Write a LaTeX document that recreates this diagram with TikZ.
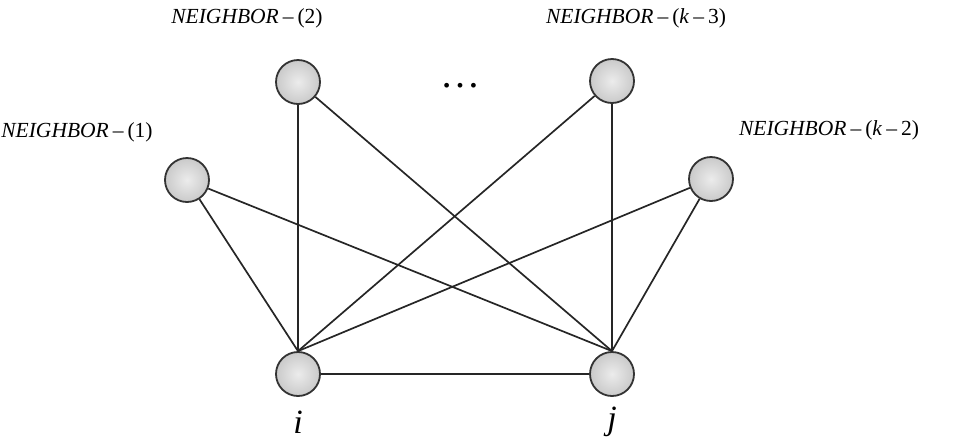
\documentclass[tikz,border=0pt]{standalone}
\usepackage{fontspec}
\setmainfont{Liberation Serif}
\tikzset{
  vert/.style={circle, minimum size=44pt, inner sep=0pt, draw=black!80, line width=1.8pt, inner color=gray!15, outer color=gray!42},
  edge/.style={line width=1.7pt, black!85},
  lab/.style={font=\fontsize{21.5}{26}\selectfont, inner sep=0pt},
  vlab/.style={font=\fontsize{34}{38}\selectfont\itshape, inner sep=0pt}
}
\newcommand{\nbr}[1]{\textit{NEIGHBOR}\kern4pt–\kern4pt#1}
\begin{document}
\begin{tikzpicture}[x=1pt,y=-1pt]
\useasboundingbox (0,0) rectangle (958,445);
\node[vert] (n1) at (187,180) {};
\node[vert] (n2) at (298,82) {};
\node[vert] (n3) at (612,81) {};
\node[vert] (n4) at (711,179) {};
\node[vert] (i) at (298,374) {};
\node[vert] (j) at (612,374) {};
\node[lab] (l1) at (77,132) {\nbr{(1)}};
\node[lab] (l2) at (247,18) {\nbr{(2)}};
\node[lab] (l3) at (636,18) {\nbr{(\textit{k}\kern4pt–\kern4pt3)}};
\node[lab] (l4) at (829,130) {\nbr{(\textit{k}\kern4pt–\kern4pt2)}};
\node[font=\fontsize{40}{44}\selectfont, inner sep=0pt, anchor=base] (dots) at (460,87) {…};
\node[vlab] (li) at (298,422) {i};
\node[vlab] (lj) at (612,422) {j};
\draw[edge] (n1) -- (i.north);
\draw[edge] (n1) -- (j.north);
\draw[edge] (n2) -- (i.north);
\draw[edge] (n2) -- (j.north);
\draw[edge] (n3) -- (i.north);
\draw[edge] (n3) -- (j.north);
\draw[edge] (n4) -- (i.north);
\draw[edge] (n4) -- (j.north);
\draw[edge] (i) -- (j);
\end{tikzpicture}
\end{document}
